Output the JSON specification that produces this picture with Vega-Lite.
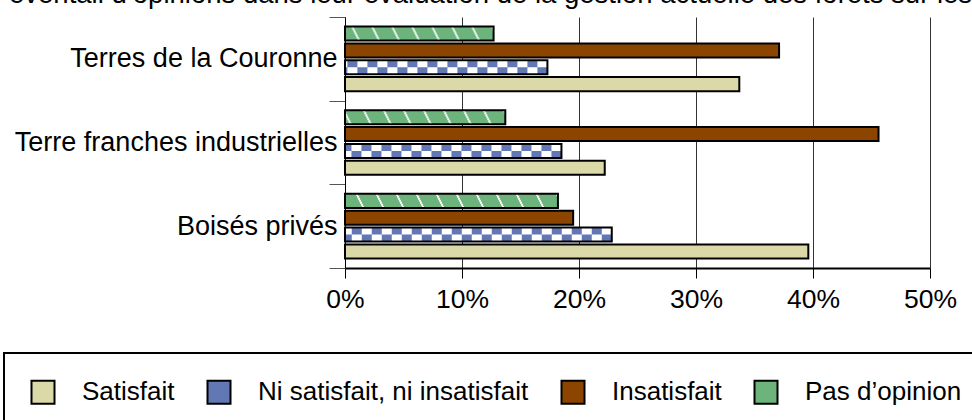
{
  "$schema": "https://vega.github.io/schema/vega-lite/v6.json",
  "autosize": {"type": "none"},
  "width": 585,
  "height": 251,
  "padding": {"left": 345, "top": 17, "right": 42, "bottom": 152},
  "background": "white",
  "title": {
    "text": "éventail d’opinions dans leur évaluation de la gestion actuelle des forêts sur les terres",
    "anchor": "start",
    "frame": "group",
    "dx": -336,
    "dy": 32,
    "offset": 5,
    "baseline": "alphabetic",
    "fontSize": 27.5,
    "fontWeight": "normal",
    "font": "Liberation Sans",
    "color": "black"
  },
  "data": {
    "values": [
      {"cat": "Terres de la Couronne", "serie": "Satisfait", "value": 33.7},
      {"cat": "Terres de la Couronne", "serie": "Ni satisfait, ni insatisfait", "value": 17.3},
      {"cat": "Terres de la Couronne", "serie": "Insatisfait", "value": 37.1},
      {"cat": "Terres de la Couronne", "serie": "Pas d’opinion", "value": 12.7},
      {"cat": "Terre franches industrielles", "serie": "Satisfait", "value": 22.2},
      {"cat": "Terre franches industrielles", "serie": "Ni satisfait, ni insatisfait", "value": 18.5},
      {"cat": "Terre franches industrielles", "serie": "Insatisfait", "value": 45.6},
      {"cat": "Terre franches industrielles", "serie": "Pas d’opinion", "value": 13.7},
      {"cat": "Boisés privés", "serie": "Satisfait", "value": 39.6},
      {"cat": "Boisés privés", "serie": "Ni satisfait, ni insatisfait", "value": 22.8},
      {"cat": "Boisés privés", "serie": "Insatisfait", "value": 19.5},
      {"cat": "Boisés privés", "serie": "Pas d’opinion", "value": 18.2}
    ]
  },
  "encoding": {
    "y": {
      "field": "cat",
      "type": "nominal",
      "sort": ["Terres de la Couronne", "Terre franches industrielles", "Boisés privés"],
      "scale": {"paddingInner": 0, "paddingOuter": 0},
      "axis": {
        "title": null,
        "tickBand": "extent",
        "tickSize": 16,
        "tickColor": "#555555",
        "tickWidth": 1,
        "domainColor": "black",
        "domainWidth": 1,
        "labelPadding": -8,
        "labelFontSize": 27,
        "labelFont": "Liberation Sans",
        "labelColor": "black",
        "labelLimit": 0,
        "grid": false
      }
    }
  },
  "layer": [
    {
      "mark": {"type": "bar", "strokeWidth": 0},
      "encoding": {
        "x": {
          "field": "value",
          "type": "quantitative",
          "scale": {"domain": [0, 50], "nice": false},
          "axis": {
            "title": null,
            "values": [0, 10, 20, 30, 40, 50],
            "labelExpr": "datum.value + '%'",
            "labelFlush": false,
            "grid": true,
            "gridColor": "#333333",
            "gridWidth": 1,
            "domainColor": "black",
            "domainWidth": 2,
            "tickColor": "black",
            "tickSize": 10,
            "tickWidth": 1,
            "labelPadding": 8,
            "labelFontSize": 26.5,
            "labelFont": "Liberation Sans",
            "labelColor": "black"
          }
        },
        "yOffset": {
          "field": "serie",
          "type": "nominal",
          "scale": {
            "domain": ["Pas d’opinion", "Insatisfait", "Ni satisfait, ni insatisfait", "Satisfait"],
            "paddingInner": 0.167,
            "paddingOuter": 0.565
          }
        },
        "fill": {
          "field": "serie",
          "type": "nominal",
          "scale": {
            "domain": ["Satisfait", "Ni satisfait, ni insatisfait", "Insatisfait", "Pas d’opinion"],
            "range": ["#DBD9A8", "#6278B4", "#8B4500", "#6CB47C"]
          },
          "legend": {
            "orient": "none",
            "legendX": -341,
            "legendY": 336,
            "direction": "horizontal",
            "title": null,
            "strokeColor": "black",
            "fillColor": "white",
            "padding": 26,
            "symbolType": "square",
            "symbolSize": 529,
            "symbolStrokeColor": "black",
            "symbolStrokeWidth": 2,
            "symbolOpacity": 1,
            "labelFontSize": 26,
            "labelFont": "Liberation Sans",
            "labelColor": "black",
            "labelOffset": 26,
            "labelLimit": 0,
            "columnPadding": 28
          }
        }
      }
    },
    {
      "transform": [{"filter": {"field": "serie", "equal": "Ni satisfait, ni insatisfait"}}],
      "mark": {"type": "rule", "orient": "horizontal", "color": "white", "strokeWidth": 7, "strokeDash": [10, 10], "strokeDashOffset": 0, "strokeCap": "butt"},
      "encoding": {
        "y": {"field": "cat", "type": "nominal", "bandPosition": 0.5588},
        "x": {"field": "value", "type": "quantitative"}
      }
    },
    {
      "transform": [{"filter": {"field": "serie", "equal": "Ni satisfait, ni insatisfait"}}],
      "mark": {"type": "rule", "orient": "horizontal", "color": "white", "strokeWidth": 7, "strokeDash": [10, 10], "strokeDashOffset": 10, "strokeCap": "butt"},
      "encoding": {
        "y": {"field": "cat", "type": "nominal", "bandPosition": 0.6427},
        "x": {"field": "value", "type": "quantitative"}
      }
    },
    {
      "transform": [{"filter": {"field": "serie", "equal": "Pas d’opinion"}}],
      "mark": {"type": "rule", "orient": "horizontal", "color": "white", "strokeWidth": 2, "strokeDash": [2, 18], "strokeDashOffset": 0, "strokeCap": "butt"},
      "encoding": {
        "y": {"field": "cat", "type": "nominal", "bandPosition": 0.1258},
        "x": {"field": "value", "type": "quantitative"}
      }
    },
    {
      "transform": [{"filter": {"field": "serie", "equal": "Pas d’opinion"}}],
      "mark": {"type": "rule", "orient": "horizontal", "color": "white", "strokeWidth": 2, "strokeDash": [2, 18], "strokeDashOffset": 1, "strokeCap": "butt"},
      "encoding": {
        "y": {"field": "cat", "type": "nominal", "bandPosition": 0.1497},
        "x": {"field": "value", "type": "quantitative"}
      }
    },
    {
      "transform": [{"filter": {"field": "serie", "equal": "Pas d’opinion"}}],
      "mark": {"type": "rule", "orient": "horizontal", "color": "white", "strokeWidth": 2, "strokeDash": [2, 18], "strokeDashOffset": 2, "strokeCap": "butt"},
      "encoding": {
        "y": {"field": "cat", "type": "nominal", "bandPosition": 0.1736},
        "x": {"field": "value", "type": "quantitative"}
      }
    },
    {
      "transform": [{"filter": {"field": "serie", "equal": "Pas d’opinion"}}],
      "mark": {"type": "rule", "orient": "horizontal", "color": "white", "strokeWidth": 2, "strokeDash": [2, 18], "strokeDashOffset": 3, "strokeCap": "butt"},
      "encoding": {
        "y": {"field": "cat", "type": "nominal", "bandPosition": 0.1975},
        "x": {"field": "value", "type": "quantitative"}
      }
    },
    {
      "transform": [{"filter": {"field": "serie", "equal": "Pas d’opinion"}}],
      "mark": {"type": "rule", "orient": "horizontal", "color": "white", "strokeWidth": 2, "strokeDash": [2, 18], "strokeDashOffset": 4, "strokeCap": "butt"},
      "encoding": {
        "y": {"field": "cat", "type": "nominal", "bandPosition": 0.2214},
        "x": {"field": "value", "type": "quantitative"}
      }
    },
    {
      "transform": [{"filter": {"field": "serie", "equal": "Pas d’opinion"}}],
      "mark": {"type": "rule", "orient": "horizontal", "color": "white", "strokeWidth": 2, "strokeDash": [2, 18], "strokeDashOffset": 5, "strokeCap": "butt"},
      "encoding": {
        "y": {"field": "cat", "type": "nominal", "bandPosition": 0.2453},
        "x": {"field": "value", "type": "quantitative"}
      }
    },
    {
      "transform": [{"filter": {"field": "serie", "equal": "Pas d’opinion"}}],
      "mark": {"type": "rule", "orient": "horizontal", "color": "white", "strokeWidth": 2, "strokeDash": [2, 18], "strokeDashOffset": 6, "strokeCap": "butt"},
      "encoding": {
        "y": {"field": "cat", "type": "nominal", "bandPosition": 0.2692},
        "x": {"field": "value", "type": "quantitative"}
      }
    },
    {
      "mark": {"type": "bar", "fill": "transparent", "stroke": "black", "strokeWidth": 2},
      "encoding": {
        "x": {"field": "value", "type": "quantitative"},
        "yOffset": {"field": "serie", "type": "nominal"}
      }
    }
  ],
  "config": {
    "font": "Liberation Sans",
    "view": {"stroke": null},
    "legend": {"strokeWidth": 2}
  }
}
